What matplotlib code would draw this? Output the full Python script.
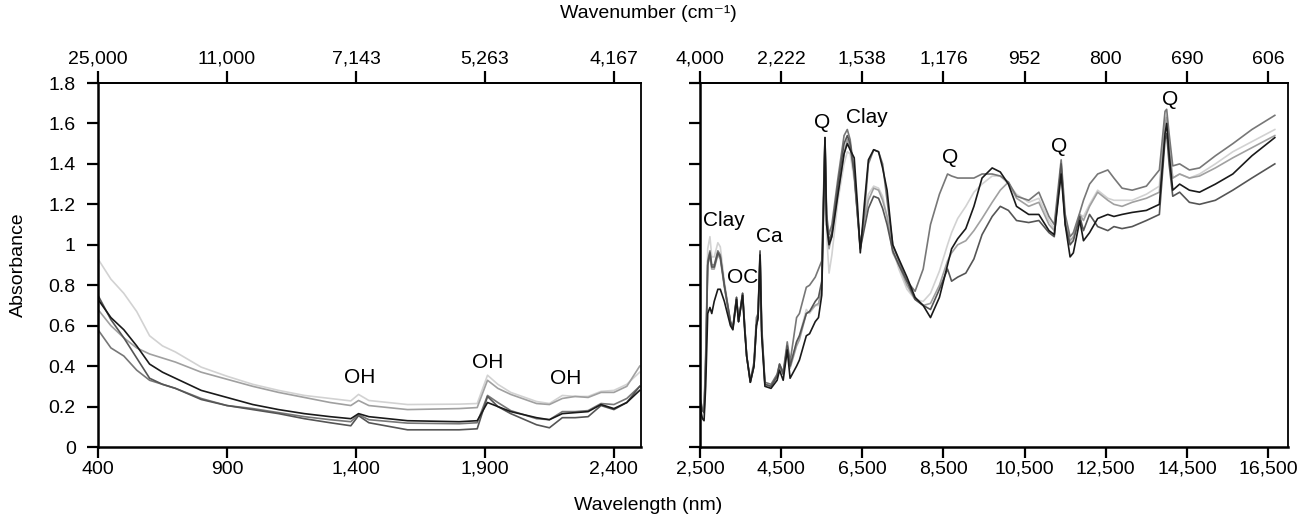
import matplotlib
matplotlib.use("Agg")
import matplotlib.pyplot as plt

plt.rcParams['font.family'] = ['Liberation Sans', 'DejaVu Sans']

# ---- data ----
# VIS-NIR panel (wavelength nm)
vnir_nm = [400, 450, 500, 550, 600, 650, 700, 800, 900, 1000, 1100, 1200, 1300,
           1380, 1410, 1450, 1600, 1800, 1870, 1910, 1950, 2000, 2100, 2150,
           2200, 2250, 2300, 2350, 2400, 2450, 2500]
vnir_black = [0.73, 0.64, 0.58, 0.50, 0.41, 0.37, 0.34, 0.28, 0.245, 0.21, 0.185, 0.165, 0.15,
              0.14, 0.165, 0.15, 0.13, 0.125, 0.13, 0.22, 0.20, 0.175, 0.145, 0.135,
              0.165, 0.17, 0.175, 0.21, 0.19, 0.22, 0.28]
vnir_dark = [0.75, 0.63, 0.54, 0.44, 0.34, 0.31, 0.29, 0.235, 0.205, 0.185, 0.165, 0.14, 0.12,
             0.105, 0.155, 0.12, 0.085, 0.085, 0.09, 0.25, 0.20, 0.165, 0.11, 0.095,
             0.145, 0.145, 0.15, 0.205, 0.185, 0.22, 0.30]
vnir_grey = [0.58, 0.49, 0.45, 0.38, 0.33, 0.31, 0.29, 0.24, 0.205, 0.19, 0.17, 0.15, 0.135,
             0.125, 0.16, 0.135, 0.118, 0.115, 0.12, 0.255, 0.22, 0.18, 0.14, 0.135,
             0.175, 0.175, 0.18, 0.215, 0.21, 0.24, 0.30]
vnir_mid = [0.68, 0.60, 0.54, 0.49, 0.46, 0.44, 0.42, 0.37, 0.335, 0.30, 0.27, 0.245, 0.22,
            0.205, 0.23, 0.205, 0.185, 0.19, 0.195, 0.33, 0.29, 0.26, 0.215, 0.21,
            0.24, 0.25, 0.245, 0.27, 0.27, 0.30, 0.40]
vnir_light = [0.93, 0.83, 0.76, 0.67, 0.55, 0.50, 0.47, 0.395, 0.35, 0.31, 0.28, 0.255, 0.24,
              0.228, 0.26, 0.23, 0.21, 0.212, 0.215, 0.355, 0.31, 0.27, 0.225, 0.215,
              0.255, 0.25, 0.25, 0.275, 0.28, 0.31, 0.37]

# MIR panel (wavelength nm)
mir_nm = [2500, 2560, 2600, 2640, 2690, 2745, 2790, 2850, 2940, 3000, 3100, 3250, 3310,
          3400, 3450, 3550, 3600, 3650, 3740, 3830, 3890, 3930, 3980, 4020, 4100, 4250,
          4400, 4460, 4550, 4650, 4720, 4880, 4950, 5120, 5200, 5340, 5420, 5500, 5580,
          5620, 5680, 5750, 5900, 6050, 6130, 6200, 6300, 6380, 6450, 6550, 6650, 6780,
          6900, 7000, 7110, 7250, 7400, 7600, 7800, 8000, 8180, 8400, 8600, 8700, 8850,
          9050, 9250, 9450, 9700, 9900, 10100, 10300, 10600, 10850, 11100, 11230, 11400,
          11500, 11620, 11700, 11860, 11950, 12100, 12300, 12550, 12700, 12900, 13150,
          13500, 13820, 13960, 14000, 14060, 14150, 14320, 14560, 14810, 15200, 15630,
          16100, 16665]
mir_black = [0.20, 0.14, 0.13, 0.30, 0.66, 0.69, 0.66, 0.72, 0.78, 0.78, 0.72, 0.60, 0.58,
             0.73, 0.62, 0.75, 0.58, 0.45, 0.32, 0.40, 0.60, 0.64, 0.95, 0.55, 0.30, 0.29,
             0.33, 0.38, 0.33, 0.48, 0.34, 0.40, 0.43, 0.55, 0.56, 0.62, 0.64, 0.75, 1.53,
             1.10, 1.00, 1.04, 1.25, 1.45, 1.50, 1.47, 1.43, 1.20, 0.96, 1.20, 1.42, 1.47,
             1.46, 1.38, 1.27, 1.00, 0.93, 0.84, 0.74, 0.70, 0.64, 0.74, 0.90, 0.98, 1.03,
             1.08, 1.19, 1.33, 1.38, 1.36, 1.30, 1.19, 1.15, 1.15, 1.07, 1.05, 1.35,
             1.10, 0.94, 0.96, 1.12, 1.02, 1.06, 1.13, 1.15, 1.14, 1.15, 1.16,
             1.17, 1.20, 1.55, 1.60, 1.45, 1.27, 1.30, 1.27, 1.26, 1.30, 1.35,
             1.44, 1.53]
mir_dark = [0.22, 0.18, 0.17, 0.40, 0.90, 0.96, 0.89, 0.89, 0.96, 0.94, 0.80, 0.62, 0.59,
            0.74, 0.62, 0.76, 0.60, 0.45, 0.32, 0.40, 0.60, 0.64, 0.97, 0.58, 0.31, 0.30,
            0.35, 0.41, 0.36, 0.50, 0.40, 0.52, 0.55, 0.66, 0.67, 0.72, 0.74, 0.82, 1.53,
            1.12, 1.02, 1.06, 1.30, 1.50, 1.54, 1.50, 1.35, 1.15, 0.98, 1.08, 1.18, 1.24,
            1.23, 1.18, 1.10, 0.97, 0.90, 0.82, 0.73, 0.70, 0.68, 0.78, 0.88, 0.82, 0.84,
            0.86, 0.93, 1.05, 1.14, 1.19, 1.17, 1.12, 1.11, 1.12, 1.06, 1.04, 1.40,
            1.10, 1.00, 1.02, 1.14, 1.07, 1.15, 1.09, 1.07, 1.09, 1.08, 1.09,
            1.12, 1.15, 1.52, 1.55, 1.40, 1.24, 1.26, 1.21, 1.20, 1.22, 1.27,
            1.33, 1.40]
mir_grey = [0.24, 0.19, 0.18, 0.45, 0.92, 0.97, 0.90, 0.90, 0.97, 0.95, 0.80, 0.62, 0.59,
            0.74, 0.62, 0.76, 0.60, 0.45, 0.33, 0.42, 0.64, 0.66, 0.96, 0.60, 0.32, 0.31,
            0.36, 0.41, 0.37, 0.52, 0.42, 0.64, 0.66, 0.79, 0.80, 0.84, 0.88, 0.92, 1.53,
            1.15, 1.05, 1.10, 1.33, 1.54, 1.57, 1.52, 1.36, 1.16, 0.99, 1.15, 1.40, 1.47,
            1.46, 1.40, 1.22, 1.00, 0.92, 0.82, 0.77, 0.88, 1.10, 1.25, 1.35, 1.34, 1.33,
            1.33, 1.33, 1.35, 1.35, 1.34, 1.31, 1.24, 1.22, 1.26, 1.14, 1.10, 1.42,
            1.15, 1.04, 1.06, 1.16, 1.22, 1.30, 1.35, 1.37, 1.33, 1.28, 1.27,
            1.29, 1.37, 1.66, 1.67, 1.55, 1.39, 1.40, 1.37, 1.38, 1.44, 1.50,
            1.57, 1.64]
mir_mid = [0.22, 0.18, 0.17, 0.42, 0.90, 0.95, 0.88, 0.88, 0.95, 0.93, 0.79, 0.61, 0.58,
           0.73, 0.62, 0.75, 0.60, 0.45, 0.32, 0.40, 0.60, 0.64, 0.93, 0.58, 0.31, 0.30,
           0.35, 0.40, 0.36, 0.48, 0.39, 0.50, 0.53, 0.66, 0.67, 0.70, 0.71, 0.78, 1.50,
           1.10, 0.98, 1.05, 1.26, 1.45, 1.52, 1.48, 1.35, 1.15, 0.98, 1.12, 1.22, 1.28,
           1.27, 1.22, 1.14, 0.96, 0.90, 0.80, 0.73, 0.70, 0.71, 0.80, 0.92, 0.96, 1.00,
           1.02, 1.07, 1.13, 1.21, 1.27, 1.31, 1.23, 1.19, 1.21, 1.10, 1.07, 1.38,
           1.12, 1.02, 1.04, 1.15, 1.12, 1.19, 1.26, 1.22, 1.20, 1.19, 1.21,
           1.23, 1.26, 1.60, 1.63, 1.48, 1.33, 1.35, 1.33, 1.34, 1.38, 1.43,
           1.48, 1.54]
mir_light = [0.25, 0.19, 0.18, 0.45, 0.98, 1.04, 0.94, 0.94, 1.01, 0.99, 0.82, 0.62, 0.59,
             0.73, 0.62, 0.76, 0.60, 0.45, 0.33, 0.40, 0.60, 0.63, 0.92, 0.57, 0.31, 0.30,
             0.35, 0.40, 0.36, 0.49, 0.40, 0.52, 0.55, 0.68, 0.66, 0.70, 0.70, 0.76, 1.48,
             1.05, 0.86, 0.95, 1.22, 1.40, 1.46, 1.45, 1.32, 1.15, 1.00, 1.13, 1.25, 1.29,
             1.28, 1.24, 1.14, 0.98, 0.88, 0.78, 0.73, 0.72, 0.76, 0.87, 1.00, 1.06, 1.13,
             1.19, 1.26, 1.30, 1.34, 1.34, 1.30, 1.25, 1.21, 1.23, 1.12, 1.08, 1.38,
             1.12, 1.00, 1.03, 1.15, 1.14, 1.20, 1.27, 1.23, 1.22, 1.22, 1.22,
             1.25, 1.29, 1.62, 1.64, 1.50, 1.33, 1.35, 1.33, 1.35, 1.40, 1.46,
             1.51, 1.57]

colors = {'black': '#1a1a1a', 'dark': '#555555', 'grey': '#777777',
          'mid': '#a0a0a0', 'light': '#d2d2d2'}

vnir_ticks = [400, 900, 1400, 1900, 2400]
vnir_top_labels = ['25,000', '11,000', '7,143', '5,263', '4,167']
mir_ticks = [2500, 4500, 6500, 8500, 10500, 12500, 14500, 16500]
mir_top_labels = ['4,000', '2,222', '1,538', '1,176', '952', '800', '690', '606']
y_ticks = [0, 0.2, 0.4, 0.6, 0.8, 1.0, 1.2, 1.4, 1.6, 1.8]
y_labels = ['0', '0.2', '0.4', '0.6', '0.8', '1', '1.2', '1.4', '1.6', '1.8']

vnir_notes = [('OH', 1415, 0.345), ('OH', 1911, 0.42), ('OH', 2213, 0.338)]
mir_notes = [('Clay', 3093, 1.12), ('OC', 3554, 0.84), ('Ca', 4213, 1.04),
             ('Q', 5506, 1.605), ('Clay', 6619, 1.628), ('Q', 8661, 1.43),
             ('Q', 11362, 1.486), ('Q', 14083, 1.716)]

FS = 14

fig = plt.figure(figsize=(12.97, 5.17), dpi=100)
ax1 = fig.add_axes([98 / 1297, 1 - 447 / 517, 543 / 1297, 364 / 517])
ax2 = fig.add_axes([700 / 1297, 1 - 447 / 517, 588 / 1297, 364 / 517])

for key, ys in [('light', vnir_light), ('mid', vnir_mid), ('grey', vnir_grey),
                ('dark', vnir_dark), ('black', vnir_black)]:
    ax1.plot(vnir_nm, ys, color=colors[key], lw=1.2)
for key, ys in [('light', mir_light), ('mid', mir_mid), ('grey', mir_grey),
                ('dark', mir_dark), ('black', mir_black)]:
    ax2.plot(mir_nm, ys, color=colors[key], lw=1.2)

ax1.set_xlim(400, 2505)
ax2.set_xlim(2500, 16990)

for ax, ticks, top_labels in [(ax1, vnir_ticks, vnir_top_labels),
                              (ax2, mir_ticks, mir_top_labels)]:
    ax.set_ylim(0, 1.8)
    ax.set_yticks(y_ticks)
    ax.set_xticks(ticks)
    ax.set_xticklabels([f'{t:,}' for t in ticks])
    ax.tick_params(axis='both', direction='out', length=8, width=1.6,
                   labelsize=FS, colors='black')
    ax.tick_params(axis='x', pad=2)
    ax.tick_params(axis='y', pad=8)
    for side in ['left', 'bottom']:
        ax.spines[side].set_linewidth(1.8)
    for side in ['top', 'right']:
        ax.spines[side].set_linewidth(1.3)
    sec = ax.secondary_xaxis('top')
    sec.set_xticks(ticks, labels=top_labels)
    sec.tick_params(direction='out', length=9, width=1.6, labelsize=FS, pad=2)
    sec.spines['top'].set_linewidth(1.3)

ax1.set_yticklabels(y_labels)
ax2.set_yticklabels([])

for txt, x, y in vnir_notes:
    ax1.text(x, y, txt, fontsize=FS + 1, ha='center', va='center')
for txt, x, y in mir_notes:
    ax2.text(x, y, txt, fontsize=FS + 1, ha='center', va='center')

fig.text(0.5, 1 - 505 / 517, 'Wavelength (nm)', fontsize=FS, ha='center', va='center')
fig.text(0.5, 1 - 14 / 517, 'Wavenumber (cm\u207b\u00b9)', fontsize=FS,
         ha='center', va='center')
fig.text(18 / 1297, 1 - 265 / 517, 'Absorbance', fontsize=FS, rotation=90,
         ha='center', va='center')

fig.savefig('out.png', dpi=100)
